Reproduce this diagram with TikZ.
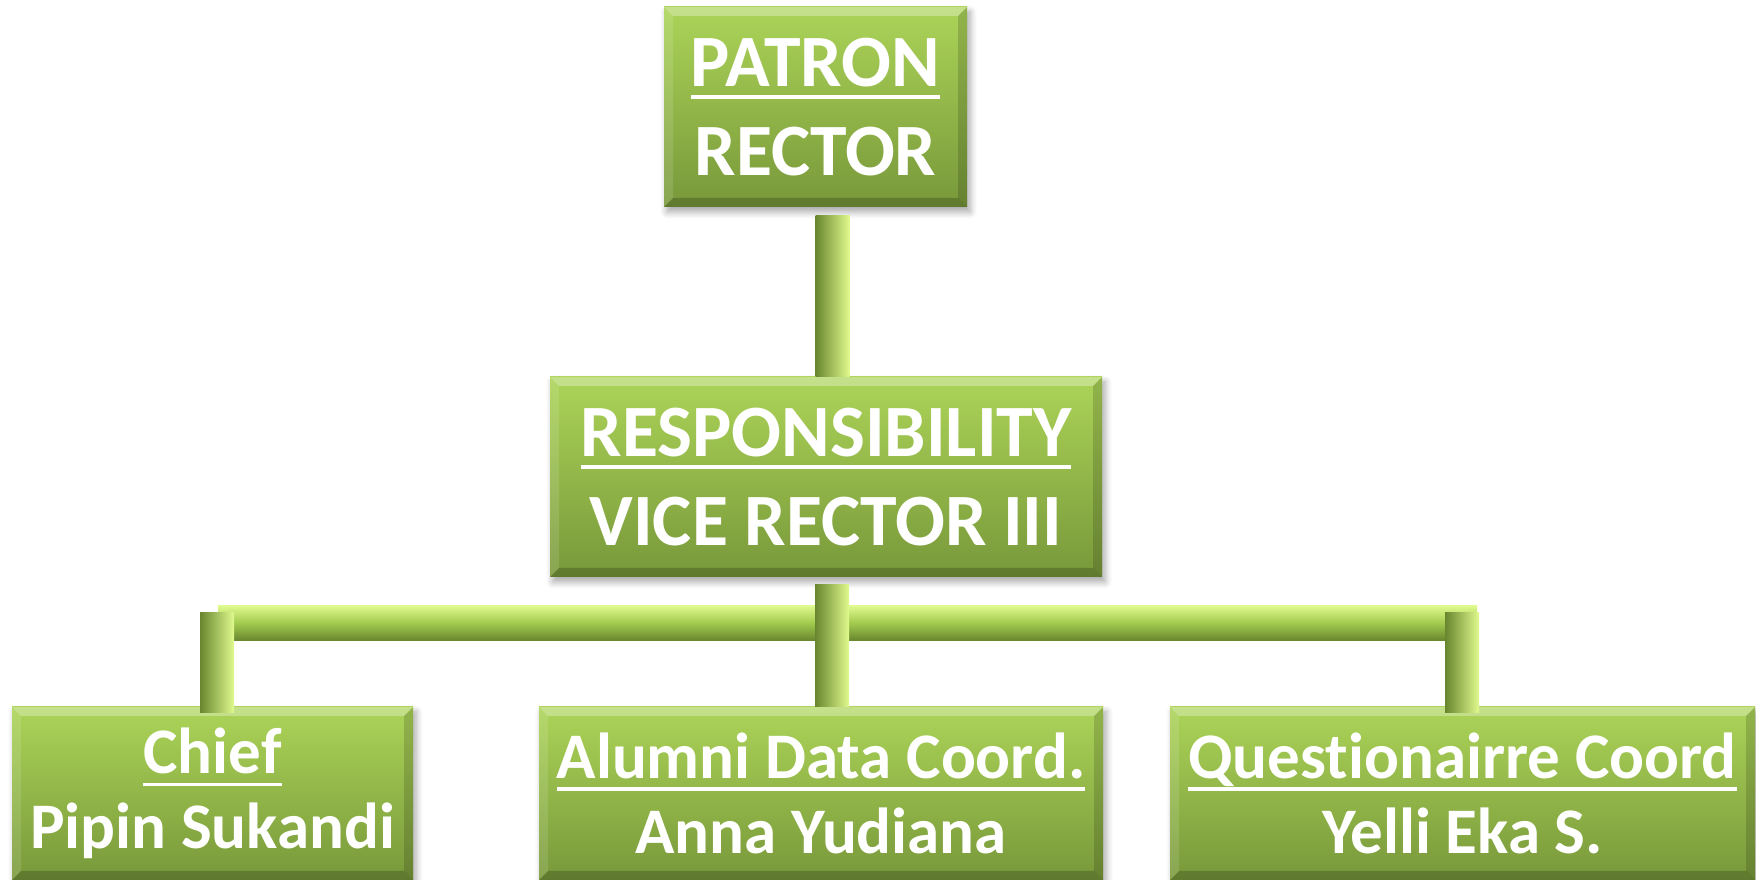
\documentclass[tikz,border=0pt]{standalone}
\usepackage{fontspec}
\setmainfont{Carlito}[Ligatures=NoCommon]
\usepackage{tikz}
\usetikzlibrary{positioning,calc,shadows.blur}

\definecolor{boxtop}{RGB}{172,212,88}
\definecolor{boxbot}{RGB}{120,152,58}
\definecolor{barlight}{RGB}{224,250,142}
\definecolor{barmid}{RGB}{162,202,78}
\definecolor{bardark}{RGB}{104,134,46}

\newcommand{\headline}[1]{\vtop{\hbox{\raisebox{0pt}[\height][0pt]{#1}}\kern2.5pt\hrule height 1.1pt}}

\tikzset{
	orgbox/.style={rectangle, inner sep=0pt, outer sep=0pt, top color=boxtop, bottom color=boxbot,
		text=white, align=center, font=\bfseries\fontsize{21}{25.3}\selectfont,
		blur shadow={shadow xshift=0.3mm, shadow yshift=-0.5mm, shadow blur steps=6, shadow opacity=35}},
	staffbox/.style={orgbox, minimum height=17.3mm, font=\bfseries\fontsize{18.5}{21.3}\selectfont},
	hbar/.style={top color=barlight, bottom color=bardark, middle color=barmid},
	vbar/.style={left color=bardark, right color=barlight},
}

\begin{document}
\begin{tikzpicture}[x=0.1mm,y=0.1mm]
	\useasboundingbox (0,0) rectangle (1756,879);
	\node[orgbox, minimum width=30.3mm, minimum height=20mm] (patron) at (815.5,772) {\headline{PATRON}\\RECTOR};
	\node[orgbox, minimum width=55.2mm, minimum height=20mm] (resp) [below = 17mm of patron, xshift=1.05mm] {\headline{RESPONSIBILITY}\\VICE RECTOR III};
	\node[staffbox, minimum width=56.4mm] (alumni) [below = 13mm of resp, xshift=-0.5mm] {\headline{Alumni Data Coord.}\\Anna Yudiana};
	\node[staffbox, minimum width=40.1mm] (chief) [left = 12.6mm of alumni] {\headline{Chief}\\Pipin Sukandi};
	\node[staffbox, minimum width=58.5mm] (quest) [right = 6.7mm of alumni] {\headline{Questionairre Coord}\\Yelli Eka S.};
	
	% bevel edges
	\foreach \n in {patron,resp,chief,alumni,quest}{
		\fill[white, opacity=.3] (\n.north west) -- (\n.north east) -- ++(-9,-9) -- ($(\n.north west)+(9,-9)$) -- cycle;
		\fill[white, opacity=.12] (\n.north west) -- ($(\n.north west)+(9,-9)$) -- ($(\n.south west)+(9,9)$) -- (\n.south west) -- cycle;
		\fill[black, opacity=.15] (\n.north east) -- (\n.south east) -- ++(-9,9) -- ($(\n.north east)+(-9,-9)$) -- cycle;
		\fill[black, opacity=.2] (\n.south west) -- (\n.south east) -- ++(-9,9) -- ($(\n.south west)+(9,9)$) -- cycle;
	}
	
	% connectors
	\shade[hbar] ($(chief.north)+(5.5,66.5)$) rectangle ($(quest.north)+(14.5,101.5)$);
	\shade[vbar] ($(chief.north)+(-12.5,-5.5)$) rectangle ($(chief.north)+(21.5,94.5)$);
	\shade[vbar] ($(quest.north)+(-17.5,-5.5)$) rectangle ($(quest.north)+(16.5,94.5)$);
	\shade[vbar] ($(alumni.north)+(-6,0)$) rectangle ($(alumni.north |- resp.south)+(28,-8)$);
	\shade[vbar] ($(patron.south)+(0,-9)$) rectangle ($(patron.south |- resp.north)+(34,0)$);
\end{tikzpicture}
\end{document}
